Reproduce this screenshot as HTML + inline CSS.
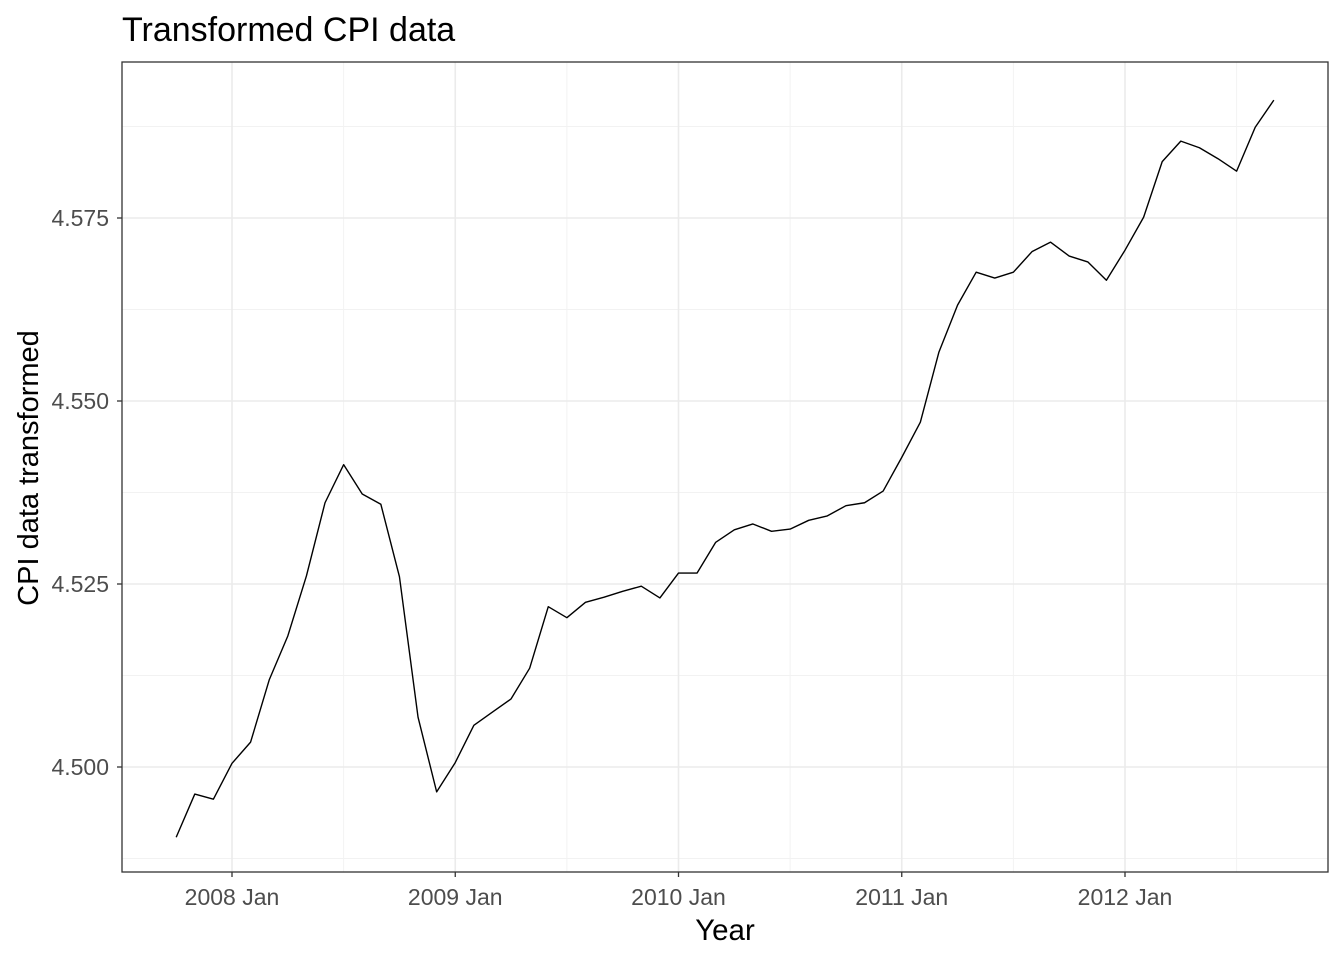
<!DOCTYPE html>
<html><head><meta charset="utf-8"><style>
html,body{margin:0;padding:0;background:#fff}
svg{display:block;font-family:"Liberation Sans",Arial,sans-serif}
</style></head><body>
<svg id="chart" width="1344" height="960" viewBox="0 0 1344 960">
<text x="122" y="41" font-size="34" fill="#000">Transformed CPI data</text>
<g id="grid"></g>
<g id="series"></g>
<rect x="122" y="62" width="1206" height="810" fill="none" stroke="#333" stroke-width="1.3"/>
<g id="axes"></g>
<text x="725" y="940" font-size="29.5" text-anchor="middle" fill="#000">Year</text>
<text transform="translate(38,468) rotate(-90)" font-size="29" text-anchor="middle" fill="#000">CPI data transformed</text>
</svg>
<script>
const startYear = 2007, startMonth = 9; // Oct 2007 (0-based month)
const values = [4.4904,4.4963,4.4956,4.5005,4.5034,4.5119,4.5179,4.5261,4.5361,4.5413,4.5373,4.5359,
4.5260,4.5068,4.4966,4.5006,4.5057,4.5075,4.5093,4.5135,4.5219,4.5204,4.5225,4.5232,4.5240,4.5247,4.5231,
4.5265,4.5265,4.5307,4.5324,4.5332,4.5322,4.5325,4.5337,4.5343,4.5357,4.5361,4.5377,
4.5423,4.5471,4.5567,4.5631,4.5676,4.5668,4.5676,4.5704,4.5717,4.5698,4.5690,4.5665,
4.5706,4.5751,4.5827,4.5855,4.5846,4.5831,4.5814,4.5874,4.5911];
const yTicks = [4.500,4.525,4.550,4.575];
const yTickLabels = ["4.500","4.525","4.550","4.575"];
const xTicks = [2008,2009,2010,2011,2012];
const xTickLabels = ["2008 Jan","2009 Jan","2010 Jan","2011 Jan","2012 Jan"];

const NS="http://www.w3.org/2000/svg";
const X0=122,X1=1328,Y0=62,Y1=872;
function xScale(t){return 232+(t-2008)*223.25;}
function yScale(v){return 767-(v-4.5)*7320;}
function mk(tag,attrs,parent){const e=document.createElementNS(NS,tag);for(const k in attrs)e.setAttribute(k,attrs[k]);parent.appendChild(e);return e;}
const grid=document.getElementById('grid'),axes=document.getElementById('axes'),series=document.getElementById('series');
mk('rect',{x:X0,y:Y0,width:X1-X0,height:Y1-Y0,fill:'#fff'},grid);
for(let i=0;i<yTicks.length+1;i++){
  const v=yTicks[0]-0.0125+i*0.025; const y=yScale(v);
  if(y>Y0&&y<Y1){const l=mk('line',{x1:X0,x2:X1,y1:y,y2:y,stroke:'#f2f2f2','stroke-width':1},grid);
  
  }
}
for(let i=0;i<=xTicks.length;i++){
  const x=xScale(xTicks[0]-0.5+i);
  if(x>X0&&x<X1){const l=mk('line',{x1:x,x2:x,y1:Y0,y2:Y1,stroke:'#f2f2f2','stroke-width':1},grid);
  
  }
}
yTicks.forEach((v,i)=>{
  const y=yScale(v);
  const l=mk('line',{x1:X0,x2:X1,y1:y,y2:y,stroke:'#ebebeb','stroke-width':1.6},grid);
  
  
  const t=mk('line',{x1:X0-5,x2:X0,y1:y,y2:y,stroke:'#333','stroke-width':1.3},axes);
  
  
  const tx=mk('text',{x:X0-13,y:y+8,'font-size':23,'text-anchor':'end',fill:'#4d4d4d'},axes);
  tx.textContent=yTickLabels[i];
  
  
});
xTicks.forEach((v,i)=>{
  const x=xScale(v);
  const l=mk('line',{x1:x,x2:x,y1:Y0,y2:Y1,stroke:'#ebebeb','stroke-width':1.6},grid);
  
  
  const t=mk('line',{x1:x,x2:x,y1:Y1,y2:Y1+5,stroke:'#333','stroke-width':1.3},axes);
  
  
  const tx=mk('text',{x:x,y:Y1+33,'font-size':23,'text-anchor':'middle',fill:'#4d4d4d'},axes);
  tx.textContent=xTickLabels[i];
  
  
});
const pts=values.map((v,i)=>{const t=startYear+(startMonth+i)/12;return xScale(t).toFixed(2)+','+yScale(v).toFixed(2);});
const line=mk('polyline',{points:pts.join(' '),fill:'none',stroke:'#000','stroke-width':1.4,'stroke-linejoin':'round'},series);


</script>
</body></html>
